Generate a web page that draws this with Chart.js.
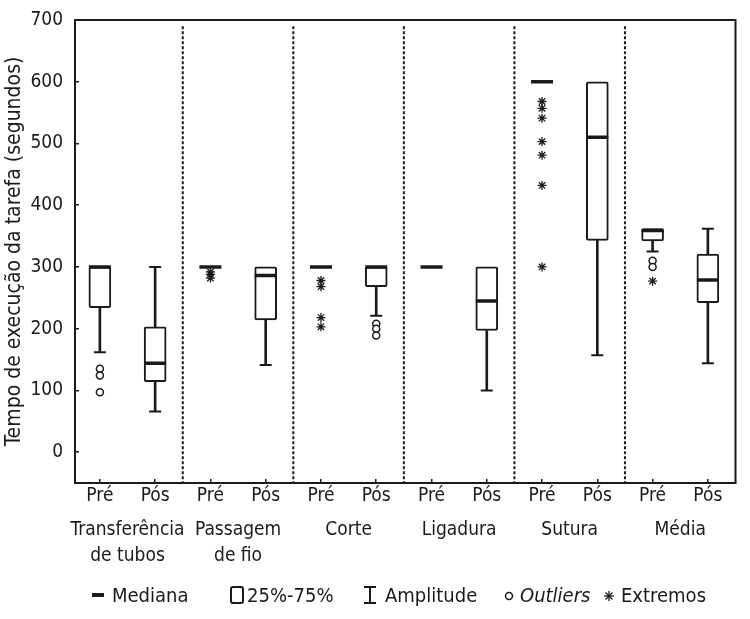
<!DOCTYPE html>
<html><head><meta charset="utf-8">
<script src="https://cdn.jsdelivr.net/npm/chart.js@4"></script>
<style>
html,body{margin:0;padding:0;background:#fff;}
#wrap{position:relative;width:750px;height:619px;}
#legend{position:absolute;left:0;top:580px;width:750px;height:30px;font-family:'DejaVu Sans Condensed','Liberation Sans Narrow',sans-serif;font-size:20px;color:#1a1a1a;}
#legend .it{position:absolute;top:0;line-height:30px;white-space:nowrap;}
#legend svg{position:absolute;top:0;}
</style></head><body>
<div id="wrap"><canvas id="c" width="750" height="619"></canvas>
<div id="legend">
<svg style="left:90px" width="16" height="30"><line x1="2" y1="15" x2="14" y2="15" stroke="#1a1a1a" stroke-width="4"/></svg>
<span class="it" style="left:112px">Mediana</span>
<svg style="left:228px" width="18" height="30"><rect x="3" y="7" width="12" height="16" rx="2" fill="#fff" stroke="#1a1a1a" stroke-width="2"/></svg>
<span class="it" style="left:247px">25%-75%</span>
<svg style="left:361px" width="18" height="30"><line x1="9" y1="7" x2="9" y2="23" stroke="#1a1a1a" stroke-width="2"/><line x1="3" y1="7" x2="15" y2="7" stroke="#1a1a1a" stroke-width="2"/><line x1="3" y1="23" x2="15" y2="23" stroke="#1a1a1a" stroke-width="2"/></svg>
<span class="it" style="left:385px">Amplitude</span>
<svg style="left:502px" width="14" height="30"><circle cx="7" cy="16" r="3.5" fill="#fff" stroke="#1a1a1a" stroke-width="1.5"/></svg>
<span class="it" style="left:520px;font-style:italic">Outliers</span>
<svg style="left:602px" width="14" height="30"><g stroke="#1a1a1a" stroke-width="1.3"><line x1="7" y1="11" x2="7" y2="21"/><line x1="2" y1="16" x2="12" y2="16"/><line x1="3.5" y1="12.5" x2="10.5" y2="19.5"/><line x1="10.5" y1="12.5" x2="3.5" y2="19.5"/></g></svg>
<span class="it" style="left:621px">Extremos</span>
</div></div>
<script>
// ---- data ----
const categories = ['Pré','Pós','Pré','Pós','Pré','Pós','Pré','Pós','Pré','Pós','Pré','Pós'];
const groups = [['Transferência','de tubos'], ['Passagem','de fio'], 'Corte', 'Ligadura', 'Sutura', 'Média'];
const q1          = [234, 114, 300, 214, 300, 268, 300, 197, 600, 343, 342, 242];
const q3          = [300, 203, 300, 300, 300, 300, 300, 300, 600, 600, 362, 321];
const medians     = [300, 144, 300, 286, 300, 300, 300, 245, 600, 510, 359, 279];
const whiskerLow  = [162,  66, 300, 141, 300, 221, 300, 100, 600, 157, 325, 144];
const whiskerHigh = [300, 300, 300, 300, 300, 300, 300, 300, 600, 600, 362, 362];
const outliers = [[135,124,97],[],[],[],[],[208,200,189],[],[],[],[],[310,300],[]];
const extremes = [[],[],[292,288,282],[],[278,268,218,203],[],[],[],[568,557,541,503,481,432,300],[],[277],[]];
const separators = [2.5, 4.5, 6.5, 8.5, 10.5];
const yTicks = [0,100,200,300,400,500,600,700];
const yTitle = 'Tempo de execução da tarefa (segundos)';

// ---- build ----
const FONT = "'DejaVu Sans Condensed','Liberation Sans Narrow',sans-serif";
const INK = '#1a1a1a';
const pos = categories.map((c,i)=>i+1);
const groupPos = groups.map((g,i)=>2*i+1.5);

const boxData = pos.map((x,i)=>({x, y: q3[i]>q1[i] ? [q1[i], q3[i]] : null}));
const stemLow = pos.map((x,i)=>({x, y: whiskerLow[i]<q1[i] ? [whiskerLow[i], q1[i]] : null}));
const stemHigh = pos.map((x,i)=>({x, y: whiskerHigh[i]>q3[i] ? [q3[i], whiskerHigh[i]] : null}));
const caps = [];
pos.forEach((x,i)=>{
  if (whiskerLow[i]<q1[i]) caps.push({x, y: whiskerLow[i]});
  if (whiskerHigh[i]>q3[i]) caps.push({x, y: whiskerHigh[i]});
});
const medData = pos.map((x,i)=>({x, y: medians[i]}));
const outData = [], extData = [];
pos.forEach((x,i)=>{
  outliers[i].forEach(v=>outData.push({x, y:v}));
  extremes[i].forEach(v=>extData.push({x, y:v}));
});

const sepSets = separators.map(s=>({
  type:'line', data:[{x:s,y:690},{x:s,y:-50}], borderColor:INK, borderWidth:2,
  borderDash:[3,2], pointRadius:0, order:6, fill:false
}));

const framePlugin = {
  id:'frame',
  afterDraw(chart){
    const {ctx, chartArea:a} = chart;
    ctx.save(); ctx.strokeStyle = INK; ctx.lineWidth = 2;
    ctx.beginPath(); ctx.moveTo(a.left, a.top); ctx.lineTo(a.right, a.top); ctx.lineTo(a.right, a.bottom); ctx.stroke();
    ctx.restore();
  }
};

new Chart(document.getElementById('c'), {
  type:'bar',
  data:{ datasets:[
    {type:'scatter', data:medData, pointStyle:'line', pointRadius:11, borderColor:INK, borderWidth:3.5, order:0},
    {type:'scatter', data:outData, pointStyle:'circle', pointRadius:3.5, backgroundColor:'#fff', borderColor:INK, borderWidth:1.5, order:0},
    {type:'scatter', data:extData, pointStyle:'star', pointRadius:4.5, borderColor:INK, borderWidth:1.3, order:0},
    {type:'scatter', data:caps, pointStyle:'line', pointRadius:6, borderColor:INK, borderWidth:2, order:1},
    {type:'bar', data:boxData, backgroundColor:'#fff', borderColor:INK, borderWidth:2, borderSkipped:false, borderRadius:2, barThickness:22, grouped:false, order:3},
    {type:'bar', data:stemLow, backgroundColor:INK, borderWidth:0, barThickness:2, grouped:false, order:4},
    {type:'bar', data:stemHigh, backgroundColor:INK, borderWidth:0, barThickness:2, grouped:false, order:4},
    ...sepSets
  ]},
  options:{
    responsive:false, animation:false, devicePixelRatio:1, events:[],
    layout:{padding:{top:20, right:8, left:0, bottom:48}},
    plugins:{legend:{display:false}, tooltip:{enabled:false}},
    scales:{
      x:{type:'linear', position:'bottom', min:0.55, max:12.5, offset:false, weight:0,
        afterBuildTicks:s=>{ s.ticks = pos.map(v=>({value:v})); },
        afterFit:s=>{ s.height = 26; },
        ticks:{callback:(v,i)=>categories[i], autoSkip:false, maxRotation:0, padding:6, color:INK, font:{family:FONT, size:19}},
        grid:{drawOnChartArea:false, drawTicks:true, tickLength:-4, color:INK, lineWidth:1.5, offset:false},
        border:{display:true, color:INK, width:2}
      },
      xg:{type:'linear', position:'bottom', min:0.55, max:12.5, offset:false, weight:1,
        afterBuildTicks:s=>{ s.ticks = groupPos.map(v=>({value:v})); },
        afterFit:s=>{ s.height = 62; },
        ticks:{callback:(v,i)=>groups[i], autoSkip:false, maxRotation:0, padding:0, color:INK, font:{family:FONT, size:19, lineHeight:'26px'}},
        grid:{display:false, offset:false},
        border:{display:false}
      },
      y:{type:'linear', position:'left', min:-50, max:700,
        afterBuildTicks:s=>{ s.ticks = yTicks.map(v=>({value:v})); },
        afterFit:s=>{ s.width = 75; s.paddingTop = 0; s.paddingBottom = 0; },
        ticks:{padding:16, color:INK, font:{family:FONT, size:19}},
        grid:{drawOnChartArea:false, drawTicks:true, tickLength:-4, color:INK, lineWidth:1.5},
        border:{display:true, color:INK, width:2},
        title:{display:true, text:yTitle, color:INK, font:{family:FONT, size:21}, padding:{top:2,bottom:0}}
      }
    }
  },
  plugins:[framePlugin]
});
</script>
</body></html>
